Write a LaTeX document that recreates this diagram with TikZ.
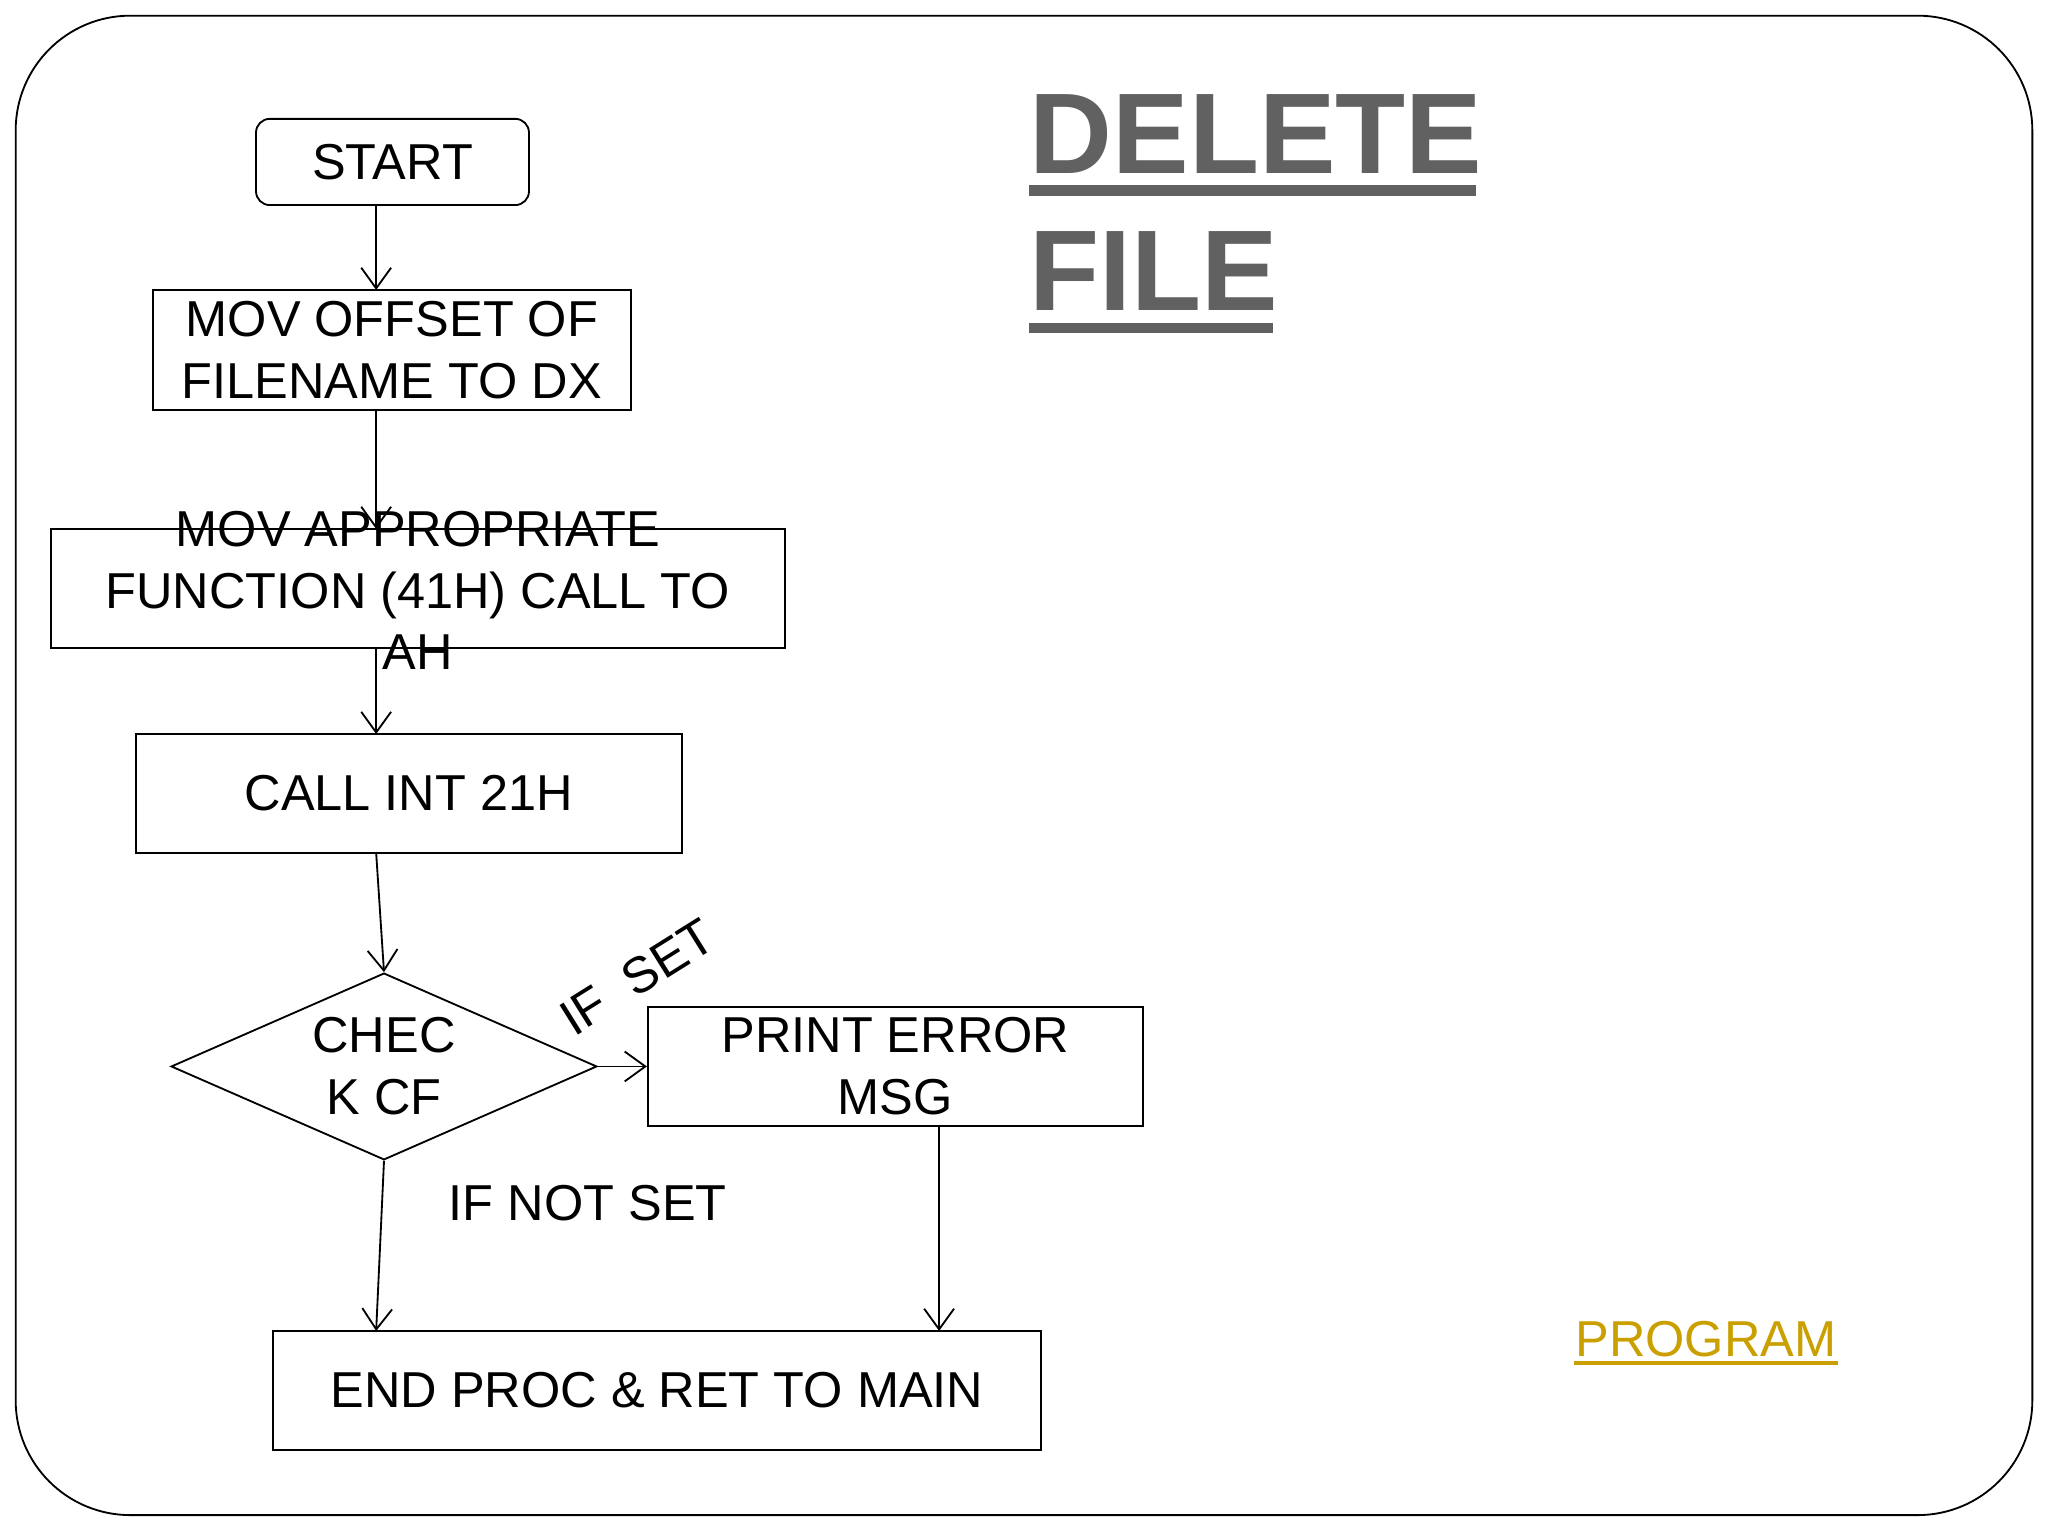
\documentclass[tikz,border=0pt]{standalone}
\usepackage{fontspec}
\setmainfont{Liberation Sans}
\usetikzlibrary{arrows.meta,shapes.geometric}
\definecolor{gold}{RGB}{201,160,0}
\begin{document}
\begin{tikzpicture}[x=0.02cm,y=-0.02cm,
  box/.style={draw,thick,rectangle,inner sep=0pt,align=center,font=\fontsize{22}{27}\selectfont},
  lbl/.style={font=\fontsize{22}{27}\selectfont},
  ttl/.style={anchor=base west,inner sep=0pt,text=black!62,font=\fontsize{50}{60}\selectfont\bfseries},
  arr/.style={thick,-{Straight Barb[length=9pt,width=13pt]}}]
\useasboundingbox (0,0) rectangle (1568,1176);
\draw[thick,rounded corners=50] (12,12) rectangle (1556,1160);
\node[box,rounded corners=6,minimum width=209*0.02cm,minimum height=66*0.02cm] (s) at (300.5,124) {START};
\node[box,minimum width=366*0.02cm,minimum height=92*0.02cm] (b1) at (300,268) {MOV OFFSET OF\\FILENAME TO DX};
\node[box,minimum width=562*0.02cm,minimum height=91*0.02cm] (b2) at (320,450.5) {};
\node[lbl,align=center] (t2) at (320,452) {MOV APPROPRIATE\\FUNCTION (41H) CALL TO\\AH};
\node[box,minimum width=418*0.02cm,minimum height=91*0.02cm] (b3) at (313,607.5) {CALL INT 21H};
\node[box,diamond,minimum width=326*0.02cm,minimum height=143*0.02cm] (d) at (294,816.5) {};
\node[lbl,align=center] (dt) at (294,816) {CHEC\\K CF};
\node[box,minimum width=379*0.02cm,minimum height=91*0.02cm] (b4) at (685.5,816.5) {PRINT ERROR\\MSG};
\node[box,minimum width=588*0.02cm,minimum height=91*0.02cm] (b5) at (503,1064.5) {END PROC \& RET TO MAIN};
\coordinate (a1) at (288,157); \coordinate (a2) at (288,222);
\coordinate (a3) at (288,314); \coordinate (a4) at (288,405);
\coordinate (a5) at (288,496); \coordinate (a6) at (288,562);
\coordinate (a7) at (288,653);
\coordinate (a8) at (719,862); \coordinate (a9) at (719,1019);
\coordinate (a10) at (288,1019);
\draw[arr] (a1) -- (a2);
\draw[arr] (a3) -- (a4);
\draw[arr] (a5) -- (a6);
\draw[arr] (a7) -- (d.north);
\draw[arr] (d.east) -- (b4.west);
\draw[arr] (d.south) -- (a10);
\draw[arr] (a8) -- (a9);
\node[lbl,rotate=32] (l1) at (488,748) {IF\ \ SET};
\node[lbl] (l2) at (450,921) {IF NOT SET};
\node[ttl] (t1) at (788,133) {DELETE};
\node[ttl] (t3) at (788,238) {FILE};
\fill[black!62] (t1.base west) ++(0,9) rectangle ++(342,8);
\fill[black!62] (t3.base west) ++(0,9) rectangle ++(187,8);
\node[text=gold,font=\fontsize{22}{27}\selectfont] (p) at (1306,1025) {PROGRAM};
\fill[gold] (1205,1042) rectangle (1407,1045);
\end{tikzpicture}
\end{document}
